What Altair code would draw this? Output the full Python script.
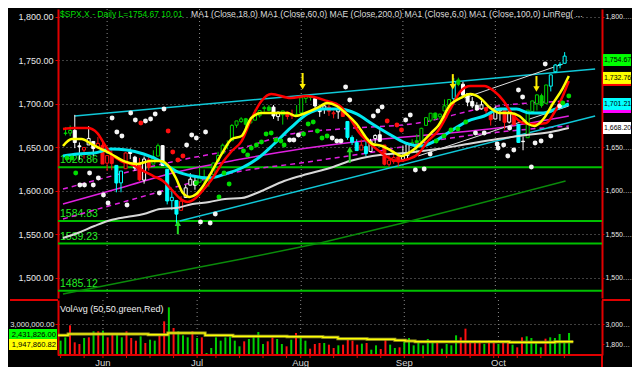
import altair as alt
import pandas as pd

# ---------------- daily bars (S&P 500, 2013) ----------------
dates = ["May 20", "May 21", "May 22", "May 23", "May 24", "May 28", "May 29", "May 30", "May 31",
         "Jun 3", "Jun 4", "Jun 5", "Jun 6", "Jun 7", "Jun 10", "Jun 11", "Jun 12", "Jun 13", "Jun 14",
         "Jun 17", "Jun 18", "Jun 19", "Jun 20", "Jun 21", "Jun 24", "Jun 25", "Jun 26", "Jun 27", "Jun 28",
         "Jul 1", "Jul 2", "Jul 3", "Jul 5", "Jul 8", "Jul 9", "Jul 10", "Jul 11", "Jul 12", "Jul 15",
         "Jul 16", "Jul 17", "Jul 18", "Jul 19", "Jul 22", "Jul 23", "Jul 24", "Jul 25", "Jul 26", "Jul 29",
         "Jul 30", "Jul 31",
         "Aug 1", "Aug 2", "Aug 5", "Aug 6", "Aug 7", "Aug 8", "Aug 9", "Aug 12", "Aug 13", "Aug 14",
         "Aug 15", "Aug 16", "Aug 19", "Aug 20", "Aug 21", "Aug 22", "Aug 23", "Aug 26", "Aug 27", "Aug 28",
         "Aug 29", "Aug 30",
         "Sep 3", "Sep 4", "Sep 5", "Sep 6", "Sep 9", "Sep 10", "Sep 11", "Sep 12", "Sep 13", "Sep 16",
         "Sep 17", "Sep 18", "Sep 19", "Sep 20", "Sep 23", "Sep 24", "Sep 25", "Sep 26", "Sep 27", "Sep 30",
         "Oct 1", "Oct 2", "Oct 3", "Oct 4", "Oct 7", "Oct 8", "Oct 9", "Oct 10", "Oct 11", "Oct 14",
         "Oct 15", "Oct 16", "Oct 17", "Oct 18", "Oct 21", "Oct 22"]
opens = [1665.7, 1666.2, 1669.4, 1651.6, 1646.7, 1652.6, 1656.6, 1649.1, 1652.1,
         1631.7, 1640.7, 1629.1, 1609.0, 1625.3, 1644.7, 1638.6, 1629.9, 1612.2, 1635.5, 1630.6, 1639.8,
         1651.8, 1624.6, 1588.6, 1588.8, 1577.5, 1592.3, 1606.4, 1611.1,
         1609.8, 1614.3, 1611.5, 1618.7, 1634.2, 1642.9, 1652.3, 1657.4, 1675.3, 1679.6, 1682.7, 1677.9,
         1681.1, 1686.2, 1694.4, 1696.1, 1696.1, 1685.2, 1687.3, 1690.3, 1687.9, 1687.8,
         1689.4, 1706.1, 1708.0, 1705.8, 1695.3, 1693.4, 1696.1, 1688.4, 1690.7, 1693.9, 1679.6, 1661.2,
         1655.3, 1646.8, 1650.7, 1645.0, 1659.9, 1664.3, 1652.5, 1630.3, 1633.5, 1638.9,
         1635.9, 1640.7, 1653.3, 1657.4, 1656.9, 1675.1, 1681.0, 1689.2, 1685.0, 1691.7, 1697.7, 1705.7,
         1727.3, 1722.4, 1711.4, 1702.6, 1698.0, 1694.1, 1695.5, 1687.3,
         1682.4, 1691.9, 1692.4, 1678.8, 1687.2, 1676.2, 1656.9, 1660.9, 1691.1, 1699.9, 1709.2, 1700.5,
         1720.2, 1736.7, 1745.2, 1746.5]
highs = [1672.8, 1674.9, 1687.2, 1655.5, 1649.8, 1674.2, 1656.6, 1661.9, 1658.0,
         1640.4, 1646.5, 1629.3, 1622.7, 1644.4, 1648.7, 1640.1, 1637.7, 1639.3, 1640.8, 1646.5, 1654.2,
         1652.5, 1624.6, 1599.2, 1588.8, 1593.8, 1606.8, 1620.1, 1615.9,
         1626.6, 1624.3, 1618.9, 1632.1, 1644.7, 1654.2, 1657.9, 1676.6, 1680.2, 1684.5, 1683.7, 1684.8,
         1693.1, 1692.1, 1697.6, 1698.4, 1698.4, 1690.9, 1691.9, 1690.9, 1693.2, 1698.4,
         1707.9, 1709.7, 1709.2, 1705.8, 1695.3, 1700.2, 1699.4, 1692.0, 1696.8, 1695.5, 1679.6, 1663.6,
         1659.2, 1658.9, 1656.9, 1659.6, 1664.9, 1669.5, 1652.5, 1641.2, 1646.4, 1640.1,
         1651.4, 1655.7, 1659.2, 1664.8, 1672.4, 1684.1, 1689.1, 1689.9, 1688.7, 1704.9, 1705.5, 1729.4,
         1729.9, 1725.2, 1711.4, 1707.6, 1701.7, 1703.9, 1695.5, 1687.3,
         1696.6, 1693.9, 1692.4, 1691.9, 1687.2, 1676.8, 1662.4, 1692.6, 1703.4, 1711.0, 1711.6, 1721.8,
         1733.4, 1745.3, 1747.8, 1759.3]
lows = [1663.5, 1662.7, 1648.9, 1635.5, 1636.9, 1652.6, 1640.1, 1648.6, 1630.7,
        1622.7, 1623.6, 1598.2, 1598.2, 1625.3, 1636.3, 1622.9, 1610.9, 1608.1, 1623.0, 1630.3, 1639.8,
        1628.9, 1584.3, 1577.7, 1560.3, 1577.1, 1592.3, 1606.4, 1601.1,
        1609.8, 1606.8, 1604.6, 1614.7, 1634.2, 1642.9, 1647.7, 1657.4, 1672.3, 1677.9, 1671.8, 1677.9,
        1681.1, 1684.1, 1690.7, 1691.4, 1682.6, 1680.2, 1676.0, 1681.9, 1682.4, 1684.9,
        1689.4, 1700.7, 1703.6, 1693.3, 1684.9, 1688.4, 1686.0, 1683.2, 1682.6, 1684.8, 1658.6, 1652.6,
        1646.1, 1646.8, 1639.4, 1645.0, 1654.8, 1656.0, 1629.1, 1627.5, 1630.9, 1628.0,
        1633.4, 1637.4, 1653.1, 1640.6, 1656.9, 1675.1, 1678.7, 1681.4, 1682.2, 1691.7, 1697.7, 1700.4,
        1720.2, 1708.9, 1697.1, 1694.9, 1691.9, 1693.1, 1687.1, 1674.9,
        1682.1, 1680.3, 1670.4, 1677.3, 1674.9, 1655.0, 1646.5, 1660.9, 1688.5, 1692.1, 1695.5, 1700.5,
        1714.1, 1735.7, 1740.7, 1746.5]
closes = [1666.3, 1669.2, 1655.4, 1650.5, 1649.6, 1660.1, 1648.4, 1654.4, 1630.7,
          1640.4, 1631.4, 1608.9, 1622.6, 1643.4, 1642.8, 1626.1, 1612.5, 1636.4, 1626.7, 1639.0, 1651.8,
          1628.9, 1588.2, 1592.4, 1573.1, 1588.0, 1603.3, 1613.2, 1606.3,
          1615.0, 1614.1, 1615.4, 1631.9, 1640.5, 1652.3, 1652.6, 1675.0, 1680.2, 1682.5, 1676.3, 1680.9,
          1689.4, 1692.1, 1695.5, 1692.4, 1685.9, 1690.3, 1691.7, 1685.3, 1686.0, 1685.7,
          1706.9, 1709.7, 1707.1, 1697.4, 1690.9, 1697.5, 1691.4, 1689.5, 1694.2, 1685.4, 1661.3, 1655.8,
          1646.1, 1652.4, 1642.8, 1657.0, 1663.5, 1656.8, 1630.5, 1635.0, 1638.2, 1633.0,
          1639.8, 1653.1, 1655.1, 1655.2, 1671.7, 1684.0, 1689.1, 1683.4, 1688.0, 1697.6, 1704.8, 1725.5,
          1722.3, 1709.9, 1701.8, 1697.4, 1692.8, 1698.7, 1691.8, 1681.6,
          1695.0, 1693.9, 1678.7, 1690.5, 1676.1, 1655.5, 1656.4, 1692.6, 1703.2, 1710.1, 1698.1, 1721.5,
          1733.2, 1744.5, 1744.7, 1754.7]
# paint-bar colour of each candle: g green, r red, w white, c cyan
bar_kind = ("ggwwrwwrr" + "rrccrwwrwrggwcccrwww" + "ggggggggggggggggwwgrrg"
            + "gggwwwrrwrcccrcwwwrrrr" + "wwgggggggggcgwwwwwrr" + "wwrwrcwgggggcccc")
volume_m = [2.0, 2.2, 2.92, 1.9, 1.8, 2.16, 2.2, 2.56, 2.56, 2.6, 2.2, 2.36, 2.4, 2.2, 2.56, 2.16,
            2.0, 2.26, 1.86, 2.06, 2.0, 2.36, 3.16, 4.0, 2.76, 2.56, 2.32, 2.2, 2.56, 2.16, 2.2, 1.26,
            1.56, 2.2, 2.0, 2.2,
            2.26, 2.0, 1.66, 1.96, 2.1, 2.32, 2.52, 1.8, 1.96, 2.2, 2.1, 1.8, 1.66, 2.06, 2.46, 2.2,
            2.0, 1.52, 1.8, 1.86, 1.86, 1.76, 1.56, 1.72, 1.76, 2.16, 2.0, 1.76, 1.82, 1.86, 1.46,
            1.72, 1.5, 2.16, 1.76, 1.56, 1.6,
            1.96, 2.16, 1.72, 1.96, 1.72, 2.1, 1.96, 1.92, 1.52, 1.8, 1.72, 2.32, 2.2, 2.72, 1.92,
            2.0, 2.0, 1.8, 2.0, 2.0, 1.8, 1.92, 2.0, 1.76, 1.6, 2.2, 2.26, 2.16, 1.86, 1.6, 2.12,
            2.2, 2.16, 2.4, 1.92, 2.46]

# ---------------- indicator lines (bar index, price) ----------------
ma18_i = [-0.55, 2.0, 4.76, 6.88, 8.37, 9.86, 11.98, 14.1, 16.9, 18.99, 21.1, 23.2, 24.9, 26.4, 27.9,
          29.6, 31.7, 33.9, 35.98, 38.1, 40.2, 42.4, 44.5, 48.7, 52.3, 56.6, 59.35, 61.5, 63.6, 65.7,
          67.85, 69.98, 72.1, 74.2, 76.3, 78.4, 80.6, 83.4, 85.5, 87.6, 90.6, 92.7, 94.8, 96.5, 98.2,
          100.1, 101.9, 104.0, 105.7, 107.6, 108.9]
ma18_p = [1670.9, 1672.1, 1672.1, 1666.3, 1653.7, 1642.2, 1634.1, 1630.7, 1622.6, 1616.9, 1611.2,
          1599.7, 1590.5, 1587.0, 1590.5, 1599.7, 1613.4, 1631.9, 1645.6, 1657.1, 1682.4, 1703.1,
          1711.1, 1706.6, 1708.9, 1703.1, 1697.4, 1683.6, 1666.3, 1654.8, 1645.6, 1637.6, 1634.1,
          1636.4, 1642.2, 1657.1, 1668.6, 1695.1, 1714.6, 1720.3, 1720.3, 1714.6, 1703.1, 1689.3,
          1680.1, 1676.7, 1676.7, 1677.8, 1689.3, 1708.9, 1726.1]
ma6_i = [-0.55, 1.36, 3.48, 5.6, 7.73, 9.86, 12.6, 15.5, 18.35, 20.5, 22.6, 23.88, 25.4, 26.85, 28.3,
         29.6, 31.7, 33.9, 35.98, 38.1, 40.2, 42.4, 45.1, 48.1, 49.8, 51.9, 54.47, 56.6, 58.7, 60.8,
         63.0, 65.1, 66.4, 68.5, 70.6, 72.7, 74.9, 77.0, 79.1, 80.6, 83.4, 85.5, 87.6, 89.7, 91.9,
         94.0, 96.1, 98.2, 100.1, 101.5, 103.4, 105.4, 107.6, 108.9]
ma6_p = [1651.4, 1659.4, 1659.4, 1653.7, 1647.9, 1642.2, 1634.1, 1630.7, 1634.1, 1634.1, 1626.1,
         1614.6, 1597.4, 1592.8, 1596.2, 1604.3, 1622.6, 1643.3, 1659.4, 1662.9, 1683.6, 1689.3,
         1689.3, 1689.3, 1685.9, 1689.3, 1695.1, 1700.8, 1697.4, 1688.2, 1676.7, 1660.6, 1653.7,
         1651.4, 1645.6, 1639.9, 1645.6, 1654.8, 1666.3, 1674.4, 1699.7, 1706.6, 1711.1, 1706.6,
         1695.1, 1689.3, 1689.3, 1685.9, 1676.7, 1674.4, 1682.4, 1699.7, 1718.0, 1731.8]
ma60_i = [-0.55, 2.63, 6.25, 9.86, 13.26, 16.9, 20.5, 23.88, 27.5, 31.1, 34.5, 38.1, 41.7, 45.1, 48.7,
          52.3, 55.75, 59.35, 63.0, 66.4, 69.98, 73.6, 77.0, 79.96, 83.4, 87.0, 90.6, 94.0, 97.6,
          100.4, 103.4, 106.1, 108.9]
ma60_p = [1639.9, 1642.2, 1643.3, 1647.9, 1646.8, 1642.2, 1634.1, 1622.6, 1616.9, 1614.6, 1619.2,
          1626.1, 1637.6, 1653.7, 1672.1, 1688.2, 1693.9, 1693.9, 1688.2, 1676.7, 1665.2, 1654.8,
          1651.4, 1657.1, 1668.6, 1680.1, 1685.9, 1693.9, 1693.9, 1689.3, 1689.3, 1693.9, 1699.7]
ma100_i = [-0.55, 2.63, 6.25, 9.86, 13.26, 16.9, 20.5, 23.88, 27.5, 31.1, 34.5, 38.1, 42.4, 47.3, 52.3,
           57.2, 61.5, 66.4, 69.98, 73.6, 77.0, 80.6, 87.0, 93.5, 99.7, 105.0, 108.9]
ma100_p = [1545.6, 1551.4, 1559.4, 1566.3, 1569.8, 1573.2, 1579.0, 1580.1, 1584.7, 1587.0, 1590.5,
           1591.6, 1599.7, 1611.2, 1619.2, 1626.1, 1634.1, 1639.9, 1642.2, 1643.3, 1645.6, 1647.9,
           1653.7, 1659.4, 1664.0, 1667.5, 1672.1]
ma200_i = [-0.55, 19.0, 38.1, 55.1, 72.1, 89.1, 108.2]
ma200_p = [1481.3, 1502.0, 1521.5, 1539.9, 1561.7, 1584.7, 1611.2]
mae_mid_i = [-0.55, 12.62, 23.2, 38.1, 50.86, 66.4, 80.6, 93.5, 108.9]
mae_mid_p = [1584.7, 1604.3, 1620.4, 1636.4, 1647.9, 1658.3, 1665.2, 1672.1, 1685.9]
mae_up_i = [-0.55, 12.62, 26.0, 38.1, 48.7, 59.35, 76.3, 90.6, 108.9]
mae_up_p = [1601.9, 1620.4, 1636.4, 1649.1, 1665.2, 1670.9, 1677.8, 1695.1, 1703.1]
mae_lo_i = [-0.55, 13.26, 38.1, 50.86, 67.85, 83.4, 108.9]
mae_lo_p = [1567.5, 1588.2, 1622.6, 1631.9, 1645.6, 1660.6, 1674.4]
chan_up_i = [2.0, 114.6]
chan_up_p = [1685.9, 1739.9]
chan_lo_i = [24.7, 114.6]
chan_lo_p = [1565.2, 1685.9]
lr_a_i = [76.3, 108.9]
lr_a_p = [1639.9, 1697.4]
lr_b_i = [86.3, 107.6]
lr_b_p = [1706.6, 1745.6]

levels = [1626.86, 1565.2, 1539.23, 1485.12]
level_labels = ["1626.86", "1584.83", "1539.23", "1485.12"]

white_dot_i = [10.07, 11.1, 12.2, 14.1, 15.1, 17.3, 18.4, 19.4, 21.3, 26.2, 27.3, 28.3, 30.3, 5.2, 7.1,
               3.1, 4.1, 6.0, 8.2, 9.2, 13.3, 20.3, 29.2, 31.3, 32.4, 48.5, 49.4, 50.4, 57.7, 58.7,
               59.6, 60.6, 61.5, 66.6, 67.6, 68.5, 73.6, 74.6, 75.7, 77.6, 103.8, 98.0, 98.9, 96.1,
               90.6, 88.7, 93.4, 94.8, 97.0, 95.7, 93.6, 100.8, 102.9, 101.6, 105.0, 106.9, 78.9]
white_dot_p = [1683.6, 1667.5, 1662.9, 1689.3, 1681.3, 1680.1, 1682.4, 1688.2, 1693.9, 1652.5, 1664.0,
               1660.6, 1667.5, 1620.4, 1614.6, 1606.6, 1606.6, 1606.6, 1595.1, 1585.8, 1583.6, 1597.3,
               1564.1, 1562.9, 1573.2, 1658.3, 1658.3, 1664.0, 1660.6, 1657.1, 1657.1, 1719.2, 1704.3,
               1685.9, 1691.6, 1696.2, 1681.3, 1687.0, 1623.8, 1625.0, 1745.6, 1715.7, 1707.7, 1672.0,
               1666.3, 1666.3, 1653.7, 1652.5, 1646.8, 1639.9, 1649.1, 1627.2, 1657.1, 1654.8, 1662.9,
               1697.4, 1642.2]
red_dot_i = [16.3, 22.2, 23.2, 24.3, 25.4, 69.6, 71.7, 72.7]
red_dot_p = [1677.8, 1668.6, 1644.5, 1635.3, 1639.9, 1680.1, 1675.5, 1669.8]
green_dot_i = [0.3, 1.4, 2.2, 28.3, 33.2, 34.3, 35.4, 38.5, 39.4, 40.2, 41.3, 42.4, 43.4, 44.5, 45.5,
               46.6, 47.3, 51.5, 52.5, 53.6, 54.5, 55.5, 56.6, 80.2, 81.9, 83.4, 84.9, 86.6, 107.6, 108.9]
green_dot_p = [1637.6, 1637.6, 1620.4, 1608.9, 1592.8, 1620.4, 1607.7, 1645.6, 1641.0, 1649.1, 1652.5,
               1656.0, 1665.2, 1666.3, 1658.3, 1657.1, 1652.5, 1665.2, 1676.6, 1678.9, 1668.6, 1660.6,
               1662.9, 1657.1, 1662.9, 1669.8, 1670.9, 1679.0, 1700.8, 1708.8]

down_arrow_i = [51.3, 83.8, 101.9]
down_arrow_top = [1735.3, 1734.0, 1731.8]
down_arrow_head = [1719.5, 1719.5, 1717.0]
up_arrow_i = [24.3, 61.5]
up_arrow_bottom = [1550.0, 1632.0]
up_arrow_head = [1562.5, 1647.5]

volavg_i = [-0.55, 1.6, 18.6, 22.8, 30.7, 36.6, 48.1, 55.7, 58.9, 65.1, 71.0, 73.2, 75.3, 95.3, 105.0, 108.9]
volavg_m = [2.32, 2.40, 2.36, 2.46, 2.32, 2.26, 2.24, 2.20, 2.12, 2.08, 2.02, 1.98, 1.94, 1.90, 1.94, 1.94]

price_tag_pos = [1727.3, 1750.2, 1729.6, 1696.2, 1699.7, 1672.1]
price_tag_color = ["#ff0000", "#00ff00", "#ffff00", "#ff00ff", "#00ffff", "#ffffff"]
price_tag_text = ["", "1,754.67", "1,732.76", "", "1,701.21", "1,668.20"]
vol_tag_pos = [2.37, 1.77]
vol_tag_color = ["#00ff00", "#ffff00"]
vol_tag_text = ["2,431,826.00", "1,947,860.82"]

header_main = "$SPX.X - Daily  L=1754.67  10.01"
header_studies = ("MA1 (Close,18,0)  MA1 (Close,60,0)  MAE (Close,200,0)  MA1 (Close,6,0)  "
                  "MA1 (Close,100,0)  LinReg( ...")

price_ticks = [1500, 1550, 1600, 1650, 1700, 1750, 1800]
price_ticks_right = [1500, 1550, 1600, 1650, 1800]

# ---------------- styling / layout ----------------
FONT = "Liberation Sans, Arial, sans-serif"
RED = "#e00000"
LEFT, RIGHT = 50, 30            # axis gutters (page keeps an 8px frame)
W, H_PRICE, H_VOL = 544, 289, 55
xscale = alt.Scale(domain=[-0.55, 115.0], nice=False, zero=False)
pscale = alt.Scale(domain=[1476.7, 1808.85], nice=False, zero=False)
vol_base = 1.14
vscale = alt.Scale(domain=[vol_base, 4.44], nice=False, zero=False)

n = len(dates)
dt = pd.to_datetime([d + " 2013" for d in dates], format="%b %d %Y")
month_idx, month_name, week_idx = [], [], []
for k in range(n):
    if k > 0 and dt[k].month != dt[k - 1].month:
        month_idx.append(k)
        month_name.append(dt[k].strftime("%b"))
    if k == 0 or dt[k].isocalendar()[1] != dt[k - 1].isocalendar()[1]:
        week_idx.append(k)
xtick_vals = sorted(set(week_idx) | set(month_idx))

cdf = pd.DataFrame({"i": range(n), "o": opens, "h": highs, "l": lows, "c": closes,
                    "k": list(bar_kind)})
cdf["fk"] = [k if c < o else "hollow" for k, o, c in zip(cdf["k"], cdf["o"], cdf["c"])]
vdf = pd.DataFrame({"i": range(n), "v": volume_m,
                    "up": ["up" if (closes[k] >= (closes[k - 1] if k else opens[k])) else "dn"
                           for k in range(n)]})
vdf["base"] = vol_base

kinds = ["g", "r", "w", "c"]
kind_cols = ["#00d000", "#ff1010", "#ffffff", "#00ffff"]
stroke_scale = alt.Scale(domain=kinds, range=kind_cols)
fill_scale = alt.Scale(domain=kinds + ["hollow"], range=kind_cols + ["#000000"])


def X():
    return alt.X("i:Q", scale=xscale, axis=None)


def PY(field="p", axis=None):
    return alt.Y(f"{field}:Q", scale=pscale, axis=axis)


def line(xs, ys, color, width, dash=None, interp="monotone", opacity=1.0):
    kw = dict(color=color, strokeWidth=width, interpolate=interp, opacity=opacity)
    if dash:
        kw["strokeDash"] = dash
    return alt.Chart(pd.DataFrame({"i": xs, "p": ys})).mark_line(**kw).encode(x=X(), y=PY())


def dots(xs, ys, color):
    return alt.Chart(pd.DataFrame({"i": xs, "p": ys})).mark_circle(
        size=24, color=color, opacity=1).encode(x=X(), y=PY())


left_axis = alt.Axis(orient="left", values=price_ticks, format=",.2f", title=None, grid=True,
                     gridColor="#808080", gridDash=[1, 3], gridWidth=1, domainColor=RED, domainWidth=2,
                     tickColor=RED, tickSize=3, labelColor="#e8e8e8", labelFontSize=9,
                     labelPadding=2, minExtent=LEFT, maxExtent=LEFT)
right_axis = alt.Axis(orient="right", values=price_ticks_right, format=",.2f", title=None, grid=False,
                      domainColor=RED, domainWidth=2, tickColor=RED, tickSize=2, labelColor="#e8e8e8",
                      labelFontSize=7, labelPadding=1, labelLimit=27, minExtent=RIGHT, maxExtent=RIGHT)

month_rules = alt.Chart(pd.DataFrame({"i": month_idx})).mark_rule(
    color="#8a8a8a", strokeDash=[1, 3], strokeWidth=1).encode(x=X())

level_df = pd.DataFrame({"lv": levels, "t": level_labels})
level_lines = alt.Chart(level_df).mark_rule(color="#00c000", strokeWidth=2).encode(
    y=alt.Y("lv:Q", scale=pscale, axis=right_axis))
level_text = alt.Chart(level_df).mark_text(
    align="left", baseline="middle", dy=-7, color="#22ee22", fontSize=10.5, font=FONT).encode(
    x=alt.value(2), y=alt.Y("lv:Q", scale=pscale, axis=None), text="t:N")

wicks = alt.Chart(cdf).mark_rule(strokeWidth=1).encode(
    x=X(), y=PY("l", left_axis), y2="h:Q",
    color=alt.Color("k:N", scale=stroke_scale, legend=None))
bodies = alt.Chart(cdf).mark_bar(size=3, strokeWidth=1).encode(
    x=X(), y=PY("o"), y2="c:Q",
    fill=alt.Fill("fk:N", scale=fill_scale, legend=None),
    stroke=alt.Stroke("k:N", scale=stroke_scale, legend=None))

down_df = pd.DataFrame({"i": down_arrow_i, "top": down_arrow_top, "head": down_arrow_head})
up_df = pd.DataFrame({"i": up_arrow_i, "bot": up_arrow_bottom, "head": up_arrow_head})
down_shaft = alt.Chart(down_df).mark_rule(color="#ffee00", strokeWidth=2).encode(
    x=X(), y=PY("top"), y2="head:Q")
down_head = alt.Chart(down_df).mark_point(shape="triangle-down", filled=True, size=40,
                                          color="#ffee00", opacity=1).encode(x=X(), y=PY("head"))
up_shaft = alt.Chart(up_df).mark_rule(color="#22dd22", strokeWidth=2).encode(
    x=X(), y=PY("bot"), y2="head:Q")
up_head = alt.Chart(up_df).mark_point(shape="triangle-up", filled=True, size=40,
                                      color="#22dd22", opacity=1).encode(x=X(), y=PY("head"))

ptag_df = pd.DataFrame({"p": price_tag_pos, "col": price_tag_color, "t": price_tag_text})
ptag_box = alt.Chart(ptag_df).mark_tick(orient="horizontal", thickness=12, size=28, opacity=1).encode(
    x=alt.value(W + 15), y=PY(), color=alt.Color("col:N", scale=None))
ptag_txt = alt.Chart(ptag_df).mark_text(align="left", baseline="middle", color="#000000",
                                        fontSize=7, font=FONT).encode(
    x=alt.value(W + 2), y=PY(), text="t:N")

header = alt.Chart(pd.DataFrame({"t": [header_main]})).mark_text(
    align="left", baseline="middle", color="#00dd00", fontSize=8.5, font=FONT).encode(
    x=alt.value(2), y=alt.value(5), text="t:N")
header2 = alt.Chart(pd.DataFrame({"t": [header_studies]})).mark_text(
    align="left", baseline="middle", color="#dcdcdc", fontSize=8.6, font=FONT).encode(
    x=alt.value(133), y=alt.value(5), text="t:N")

price = alt.layer(
    month_rules, level_lines, level_text,
    line(ma200_i, ma200_p, "#0a8a0a", 1.5, interp="linear"),
    line(mae_lo_i, mae_lo_p, "#e020e0", 1.5, dash=[5, 4]),
    line(mae_up_i, mae_up_p, "#e020e0", 1.5, dash=[5, 4]),
    line(mae_mid_i, mae_mid_p, "#e020e0", 1.5),
    line(chan_up_i, chan_up_p, "#10c8d8", 1.5, interp="linear"),
    line(chan_lo_i, chan_lo_p, "#10c8d8", 1.5, interp="linear"),
    line(lr_a_i, lr_a_p, "#e0e0e0", 1, interp="linear"),
    line(lr_b_i, lr_b_p, "#e0e0e0", 1, interp="linear"),
    wicks, bodies,
    line(ma100_i, ma100_p, "#d8d8d8", 2),
    line(ma60_i, ma60_p, "#00e8f0", 3),
    line(ma18_i, ma18_p, "#ff0000", 2.5),
    line(ma6_i, ma6_p, "#ffff00", 2.5),
    dots(white_dot_i, white_dot_p, "#f4f4f4"),
    dots(red_dot_i, red_dot_p, "#ff1010"),
    dots(green_dot_i, green_dot_p, "#00dd00"),
    down_shaft, down_head, up_shaft, up_head,
    ptag_box, ptag_txt, header, header2,
).resolve_axis(y="independent").properties(width=W, height=H_PRICE)

# ---------------- volume panel ----------------
vol_left_axis = alt.Axis(orient="left", values=[3.0], labelExpr="format(datum.value * 1000000, ',.2f')",
                         title=None, grid=True, gridColor="#808080", gridDash=[1, 3],
                         domainColor=RED, domainWidth=2, tickColor=RED, tickSize=3,
                         labelColor="#e8e8e8", labelFontSize=7.6, labelPadding=1,
                         minExtent=LEFT, maxExtent=LEFT)
vol_right_axis = alt.Axis(orient="right", values=[1.8, 3.0],
                          labelExpr="format(datum.value * 1000000, ',.2f')", labelLimit=26,
                          title=None, grid=False, domainColor=RED, domainWidth=2, tickColor=RED,
                          tickSize=2, labelColor="#e8e8e8", labelFontSize=7, labelPadding=1,
                          minExtent=RIGHT, maxExtent=RIGHT)

vbars = alt.Chart(vdf).mark_rule(strokeWidth=2).encode(
    x=X(),
    y=alt.Y("v:Q", scale=vscale, axis=vol_left_axis), y2="base:Q",
    color=alt.Color("up:N", scale=alt.Scale(domain=["up", "dn"], range=["#00cc00", "#dd0000"]),
                    legend=None))
va_df = pd.DataFrame({"i": volavg_i, "v": volavg_m})
va_olive = alt.Chart(va_df).mark_line(color="#a8a820", strokeWidth=3, interpolate="step-after").encode(
    x=X(), y=alt.Y("v:Q", scale=vscale, axis=vol_right_axis))
va_yellow = alt.Chart(va_df).mark_line(color="#ffff00", strokeWidth=1.2, interpolate="step-after").encode(
    x=X(), y=alt.Y("v:Q", scale=vscale, axis=None))
vtag_df = pd.DataFrame({"v": vol_tag_pos, "col": vol_tag_color, "t": vol_tag_text})
vtag_box = alt.Chart(vtag_df).mark_tick(orient="horizontal", thickness=11, size=48, opacity=1).encode(
    x=alt.value(-25), y=alt.Y("v:Q", scale=vscale, axis=None), color=alt.Color("col:N", scale=None))
vtag_txt = alt.Chart(vtag_df).mark_text(align="right", baseline="middle", color="#000000",
                                        fontSize=7.6, font=FONT).encode(
    x=alt.value(-2), y=alt.Y("v:Q", scale=vscale, axis=None), text="t:N")
vol_title = alt.Chart(pd.DataFrame({"t": ["VolAvg (50,50,green,Red)"]})).mark_text(
    align="left", baseline="middle", color="#f0f0f0", fontSize=9, font=FONT).encode(
    x=alt.value(2), y=alt.value(9), text="t:N")
sep_left = alt.Chart(pd.DataFrame({"a": [0]})).mark_rule(color=RED, strokeWidth=2).encode(
    x=alt.value(-(LEFT - 2)), x2=alt.value(0), y=alt.value(0))
sep_right = alt.Chart(pd.DataFrame({"a": [0]})).mark_rule(color=RED, strokeWidth=2).encode(
    x=alt.value(W), x2=alt.value(W + RIGHT - 2), y=alt.value(0))
right_tail = alt.Chart(pd.DataFrame({"a": [0]})).mark_rule(color=RED, strokeWidth=2).encode(
    x=alt.value(W), y=alt.value(H_VOL), y2=alt.value(H_VOL + 13))
bottom_line = alt.Chart(pd.DataFrame({"a": [0]})).mark_rule(color=RED, strokeWidth=2).encode(
    x=alt.value(0), x2=alt.value(W), y=alt.value(H_VOL))
week_ticks = alt.Chart(pd.DataFrame({"i": xtick_vals})).mark_rule(color=RED, strokeWidth=1).encode(
    x=X(), y=alt.value(H_VOL), y2=alt.value(H_VOL + 3))
month_text = alt.Chart(pd.DataFrame({"i": month_idx, "t": month_name})).mark_text(
    align="center", baseline="middle", color="#d4d4d4", fontSize=9.5, font=FONT).encode(
    x=X(), y=alt.value(H_VOL + 7.5), text="t:N")

volume = alt.layer(
    month_rules, vbars, va_olive, va_yellow, vtag_box, vtag_txt, vol_title,
    sep_left, sep_right, right_tail, bottom_line, week_ticks, month_text,
).resolve_axis(y="independent").properties(width=W, height=H_VOL)

page_css = "html,body{background:#000000;overflow:hidden}"
chart = alt.vconcat(price, volume, spacing=0).properties(
    padding=0,
    usermeta={"embedOptions": {"defaultStyle": page_css}},
).configure(background="#000000", font=FONT).configure_view(strokeWidth=0).configure_axis(
    labelFont=FONT)

chart.save("out.html", embed_options={"renderer": "svg", "actions": False})
